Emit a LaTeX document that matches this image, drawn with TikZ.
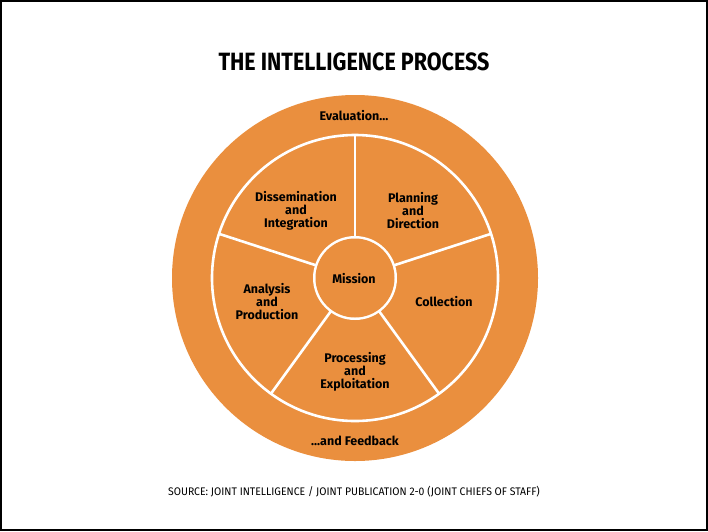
\documentclass[tikz,border=0pt]{standalone}
\usepackage{fontspec}
\setmainfont{Fira Sans}
\begin{document}
\begin{tikzpicture}[x=1pt,y=-1pt,
  lab/.style={font=\fontsize{12.5}{13}\selectfont\bfseries, align=center, text=black},
  spoke/.style={white, line width=2.6pt}]
\definecolor{org}{HTML}{EA8F3E}
\useasboundingbox (0,0) rectangle (708,531);
\draw[line width=1.4pt] (1,1) rectangle (707,530);
\node[font=\fontsize{25}{27}\selectfont\bfseries, xscale=0.86] (title) at (354,62) {THE INTELLIGENCE PROCESS};
\coordinate (c) at (355,278);
\fill[org] (c) circle (183);
\draw[spoke] (c) circle (143);
\foreach \a in {90,18,-54,-126,162}
  \draw[spoke] (c) -- ++(\a:-143);
\fill[white] (c) circle (42);
\fill[org] (c) circle (39.5);
\node[lab] (m) at (354,279) {Mission};
\node[lab] (e) at (354,116) {Evaluation...};
\node[lab] (f) at (355,441) {...and Feedback};
\node[lab] (p) at (413,211) {Planning\\and\\Direction};
\node[lab] (d) at (296,211) {Dissemination\\and\\Integration};
\node[lab] (co) at (444,302) {Collection};
\node[lab] (a) at (267,302) {Analysis\\and\\Production};
\node[lab] (pe) at (355,372) {Processing\\and\\Exploitation};
\node[font=\fontsize{11}{12}\selectfont, xscale=0.95] (src) at (354,492) {SOURCE: JOINT INTELLIGENCE / JOINT PUBLICATION 2-0 (JOINT CHIEFS OF STAFF)};
\end{tikzpicture}
\end{document}
